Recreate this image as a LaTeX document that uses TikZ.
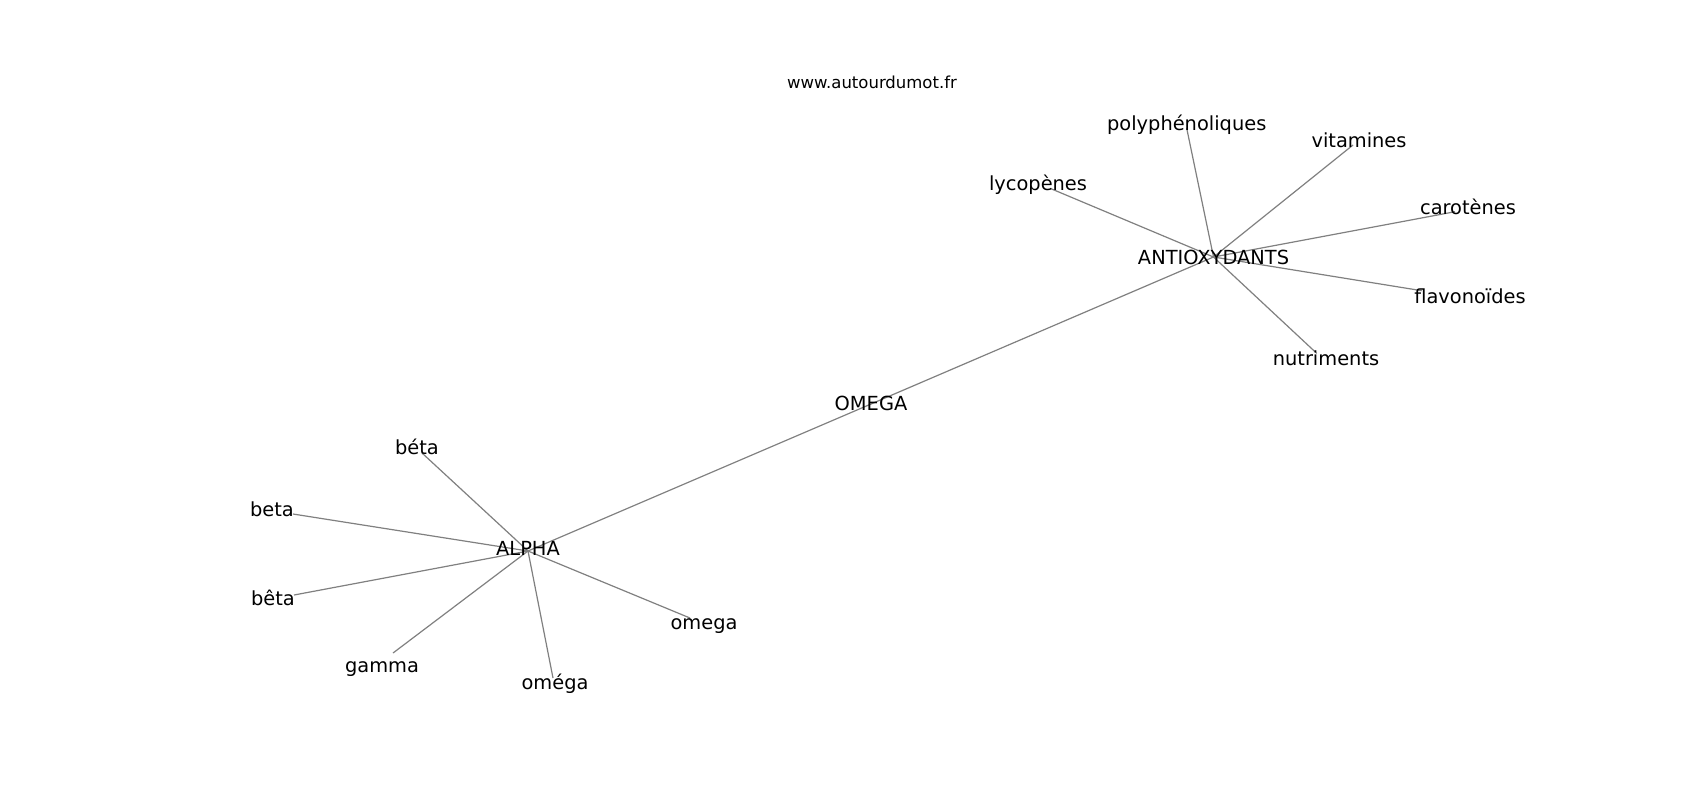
\documentclass[tikz,border=0pt]{standalone}
\usepackage{fontspec}
\setmainfont{DejaVu Sans}
\tikzset{
  lbl/.style={anchor=base, inner sep=0pt, font=\fontsize{9.7pt}{11pt}\selectfont, text=black},
  wm/.style={anchor=base, inner sep=0pt, font=\fontsize{8.25pt}{10pt}\selectfont, text=black},
  edge/.style={draw=black!50, line width=0.6pt}
}
\begin{document}
\begin{tikzpicture}[x=0.5pt, y=-0.5pt]
\path[fill=white] (0,0) rectangle (1700,800);
\useasboundingbox (0,0) rectangle (1700,800);
% hubs and edge end points
\coordinate (hA) at (528,551);
\coordinate (hO) at (871,404);
\coordinate (hX) at (1213.5,257);
\coordinate (eBeta1) at (422,453);
\coordinate (eBeta2) at (293,514);
\coordinate (eBeta3) at (294,595);
\coordinate (eGamma) at (393,653);
\coordinate (eOmega1) at (553,678);
\coordinate (eOmega2) at (690,618);
\coordinate (ePoly) at (1186.7,128.3);
\coordinate (eVit) at (1353,145);
\coordinate (eLyco) at (1050,188.3);
\coordinate (eCaro) at (1455,211.7);
\coordinate (eFlav) at (1421.7,290.7);
\coordinate (eNutr) at (1316.7,353.3);
% edges
\draw[edge] (hA) -- (hO);
\draw[edge] (hO) -- (hX);
\foreach \e in {eBeta1,eBeta2,eBeta3,eGamma,eOmega1,eOmega2}
  \draw[edge] (hA) -- (\e);
\foreach \e in {ePoly,eVit,eLyco,eCaro,eFlav,eNutr}
  \draw[edge] (hX) -- (\e);
% labels
\node[wm] (www) at (872,88) {www.autourdumot.fr};
\node[lbl] (poly) at (1186.7,130.5) {polyphénoliques};
\node[lbl] (vit) at (1359,147.5) {vitamines};
\node[lbl] (lyco) at (1038,190) {lycopènes};
\node[lbl] (caro) at (1468,214) {carotènes};
\node[lbl] (anti) at (1213.5,264.3) {ANTIOXYDANTS};
\node[lbl] (flav) at (1470,303) {flavonoïdes};
\node[lbl] (nutr) at (1326,365) {nutriments};
\node[lbl] (omegaC) at (871,410) {OMEGA};
\node[lbl] (beta1) at (417,454) {béta};
\node[lbl] (beta2) at (272,516) {beta};
\node[lbl] (alpha) at (528,555) {ALPHA};
\node[lbl] (beta3) at (273,605) {bêta};
\node[lbl] (omega2) at (704,629.5) {omega};
\node[lbl] (gamma) at (382,672) {gamma};
\node[lbl] (omega1) at (555,689.5) {oméga};
\end{tikzpicture}
\end{document}
